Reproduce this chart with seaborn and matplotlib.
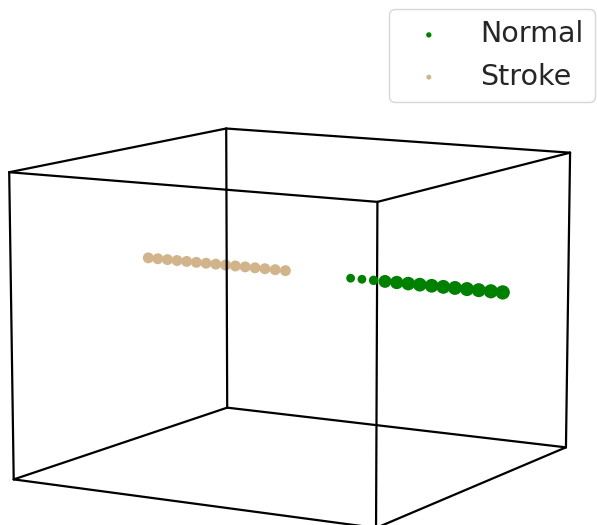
import numpy as np
import matplotlib
matplotlib.use("Agg")
import matplotlib.pyplot as plt
import seaborn as sns
from itertools import product, combinations

sns.set_theme(style="white")

# Projected embedding coordinates for each group
normal_x = [0.618, 0.657, 0.697, 0.736, 0.776, 0.815, 0.854, 0.894, 0.933, 0.972, 1.012, 1.051, 1.091, 1.130]
normal_y = [0.75] * 14
normal_z = [0.572] * 14
normal_s = [40, 40, 46, 86, 92, 96, 98, 98, 100, 100, 102, 102, 104, 106]

stroke_x = [0.087, 0.121, 0.155, 0.189, 0.223, 0.257, 0.291, 0.325, 0.359, 0.393, 0.427, 0.461, 0.495, 0.530, 0.565]
stroke_y = [0.50] * 15
stroke_z = [0.64] * 15
stroke_s = [62] * 15

fig = plt.figure(figsize=(5.97, 5.25), dpi=100)
ax = fig.add_axes([-0.049, -0.217, 1.060, 1.206], projection="3d")
ax.set_axis_off()

ax.scatter(normal_x, normal_y, normal_z, s=normal_s, color="green", label="Normal",
           depthshade=False, edgecolors="none")
ax.scatter(stroke_x, stroke_y, stroke_z, s=stroke_s, color="tan", label="Stroke",
           depthshade=False, edgecolors="none")

lims = [0, 1.2]
for a, b in combinations(np.array(list(product(lims, [0, 1], [0, 1]))), 2):
    if np.sum(np.abs(a - b) > 0) == 1:
        ax.plot(*zip(a, b), color="black", lw=1.6)

ax.view_init(elev=10, azim=-60)
ax.set_xlim(lims)
ax.set_ylim(0, 1)
ax.set_zlim(0, 1)

fig.legend(loc="upper right", bbox_to_anchor=(1.02, 1.01), fontsize=20.5, markerscale=0.45,
           frameon=True)
fig.savefig("out.png", dpi=100)
